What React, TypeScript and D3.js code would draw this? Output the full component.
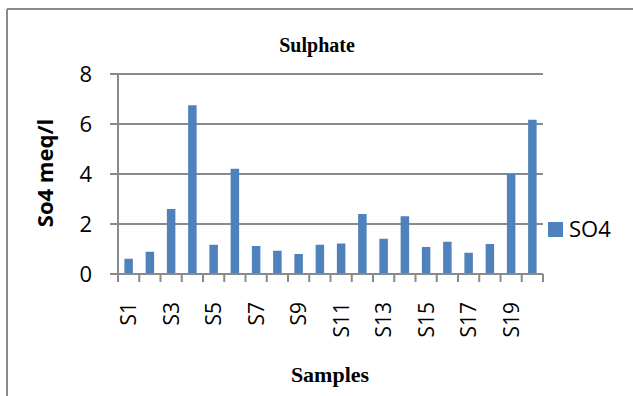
import React from "react";
import * as d3 from "d3";

const categories = ["S1","S2","S3","S4","S5","S6","S7","S8","S9","S10","S11","S12","S13","S14","S15","S16","S17","S18","S19","S20"];
const so4Values = [0.61,0.89,2.6,6.75,1.17,4.21,1.12,0.93,0.8,1.17,1.22,2.4,1.41,2.31,1.08,1.29,0.85,1.2,4.0,6.17];
const yTicks = [0,2,4,6,8];
const seriesName = "SO4";
const chartTitle = "Sulphate";
const xTitle = "Samples";
const yTitle = "So4 meq/l";

const W = 633, H = 396;
const left = 118, right = 543, top = 74, bottom = 274;
const gray = "#8a8a8a";
const barColor = "#4f81bd";
const sans = "'Open Sans', sans-serif";
const serif = "'Liberation Serif', 'Times New Roman', serif";

export default function App() {
  const x = d3.scaleBand<string>().domain(categories).range([left, right]).padding(0);
  const y = d3.scaleLinear().domain([0, 8]).range([bottom, top]);
  const bw = x.bandwidth() * 0.4;
  const tickXs = categories.map((c) => x(c) as number).concat([right]);

  return (
    <svg width={W} height={H} style={{ position: "absolute", left: 0, top: 0 }}>
      <rect x={0} y={0} width={W} height={H} fill="#fff" />
      {/* frame */}
      <line x1={7} y1={9} x2={W} y2={9} stroke={gray} strokeWidth={2} />
      <line x1={7} y1={9} x2={7} y2={H} stroke={gray} strokeWidth={2} />

      <text x={317} y={52} textAnchor="middle" fontFamily={serif} fontWeight="bold" fontSize={20}>{chartTitle}</text>

      {/* gridlines */}
      {yTicks.map((t) => (
        <line key={t} x1={left - 8} x2={right} y1={y(t)} y2={y(t)} stroke={gray} strokeWidth={2} />
      ))}
      {/* y axis */}
      <line x1={left} x2={left} y1={top} y2={bottom} stroke={gray} strokeWidth={2} />
      {yTicks.map((t) => (
        <text key={"yl" + t} x={92} y={y(t)} dy="0.36em" textAnchor="end" fontFamily={sans} fontSize={22}>{t}</text>
      ))}

      {/* bars */}
      {categories.map((c, i) => (
        <rect key={c} x={(x(c) as number) + x.bandwidth() / 2 - bw / 2} y={y(so4Values[i])} width={bw} height={bottom - y(so4Values[i])} fill={barColor} />
      ))}

      {/* x axis */}
      <line x1={left} x2={right} y1={bottom} y2={bottom} stroke={gray} strokeWidth={2} />
      {tickXs.map((tx, i) => (
        <line key={"xt" + i} x1={tx} x2={tx} y1={bottom} y2={bottom + 8} stroke={gray} strokeWidth={2} />
      ))}
      {categories.map((c, i) =>
        i % 2 === 0 ? (
          <text key={"xl" + c} transform={`translate(${(x(c) as number) + x.bandwidth() / 2},302) rotate(-90)`} dy="0.36em" textAnchor="end" fontFamily={sans} fontSize={21}>{c}</text>
        ) : null
      )}

      <text x={330} y={382} textAnchor="middle" fontFamily={serif} fontWeight="bold" fontSize={22}>{xTitle}</text>
      <text transform={`translate(45,173) rotate(-90)`} dy="0.36em" textAnchor="middle" fontFamily={sans} fontWeight="bold" fontSize={22}>{yTitle}</text>

      {/* legend */}
      <rect x={548} y={222} width={15} height={15} fill={barColor} />
      <text x={569} y={237} fontFamily={sans} fontSize={22}>{seriesName}</text>
    </svg>
  );
}
